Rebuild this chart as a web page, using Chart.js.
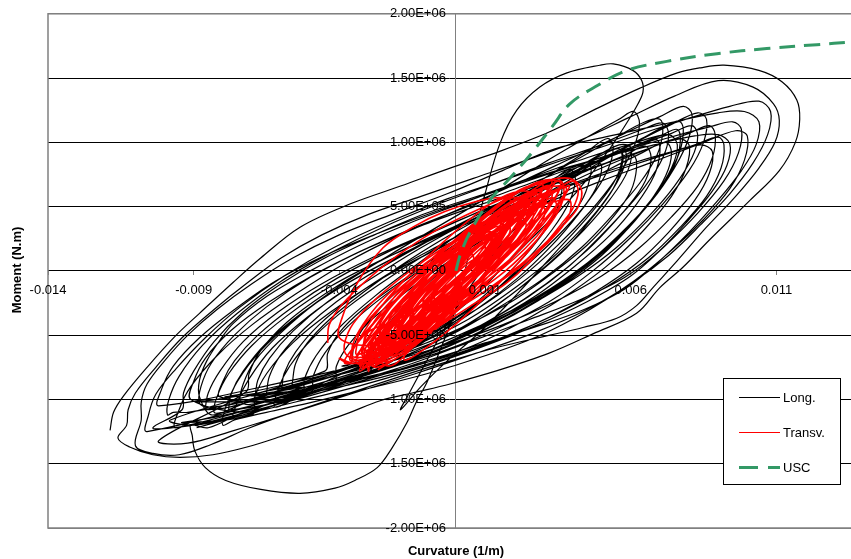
<!DOCTYPE html>
<html><head><meta charset="utf-8">
<script src="https://cdn.jsdelivr.net/npm/chart.js@4/dist/chart.umd.min.js"></script>
<style>html,body{margin:0;padding:0;background:#fff;overflow:hidden}#wrap{position:relative;width:851px;height:559px}</style>
</head><body><div id="wrap"><canvas id="c"></canvas></div>
<script>
const xTickValues = [-0.014, -0.009, -0.004, 0.001, 0.006, 0.011];
const yTickValues = [-2e6, -1.5e6, -1e6, -0.5e6, 0, 0.5e6, 1e6, 1.5e6, 2e6];
const seriesLabels = ['Long.', 'Transv.', 'USC'];
const axisTitles = ['Curvature (1/m)', 'Moment (N.m)'];

// Long. : outer loops (curvature 1/m, moment N.m)
const longOuter = [
[-0.01187,-1.24e6],[-0.01175,-1.10e6],[-0.0114,-0.97e6],[-0.0106,-0.75e6],[-0.0096,-0.50e6],[-0.0088,-0.33e6],[-0.00765,-0.09e6],[-0.0067,0.10e6],[-0.00535,0.34e6],[-0.00364,0.52e6],[-0.0019,0.66e6],[-0.0002,0.80e6],[0.0015,0.93e6],[0.0032,1.08e6],[0.0049,1.27e6],[0.0063,1.42e6],[0.0076,1.54e6],[0.0084,1.58e6],[0.0092,1.60e6],[0.0104,1.56e6],[0.0112,1.47e6],[0.0117,1.33e6],[0.0118,1.18e6],[0.01165,1.00e6],[0.0111,0.78e6],[0.0101,0.55e6],[0.0087,0.24e6],[0.0078,0.03e6],[0.0070,-0.13e6],[0.0062,-0.33e6],[0.0047,-0.49e6],[0.0032,-0.64e6],[0.0015,-0.77e6],[-0.0002,-0.88e6],[-0.0015,-0.95e6],[-0.0026,-1.01e6],[-0.00374,-1.11e6],[-0.0049,-1.20e6],[-0.00604,-1.29e6],[-0.00717,-1.37e6],[-0.00834,-1.43e6],[-0.00947,-1.45e6],[-0.0104,-1.43e6],[-0.0112,-1.37e6],[-0.0116,-1.30e6],
[-0.0113,-1.20e6],[-0.01125,-1.08e6],[-0.0110,-0.95e6],[-0.0103,-0.75e6],[-0.0094,-0.52e6],[-0.0083,-0.30e6],[-0.0072,-0.10e6],[-0.0060,0.10e6],[-0.0046,0.28e6],[-0.0030,0.44e6],[-0.0012,0.58e6],[0.0006,0.72e6],[0.0024,0.86e6],[0.0043,1.02e6],[0.0060,1.20e6],[0.0075,1.36e6],[0.0090,1.48e6],[0.0102,1.43e6],[0.0109,1.30e6],[0.0111,1.17e6],[0.01095,1.00e6],[0.0104,0.80e6],[0.0096,0.58e6],[0.0086,0.34e6],[0.0076,0.08e6],[0.0068,-0.12e6],[0.0062,-0.27e6],[0.0055,-0.37e6],[0.00436,-0.44e6],[0.00323,-0.50e6],[0.0015,-0.59e6],[-0.0002,-0.70e6],[-0.0019,-0.82e6],[-0.00364,-0.95e6],[-0.00535,-1.08e6],[-0.00707,-1.22e6],[-0.0084,-1.35e6],[-0.0095,-1.43e6],[-0.0104,-1.42e6],[-0.0110,-1.36e6],
[-0.0108,-1.16e6],[-0.0108,-1.02e6],[-0.0106,-0.88e6],[-0.0100,-0.70e6],[-0.0092,-0.50e6],[-0.0082,-0.30e6],[-0.0070,-0.10e6],[-0.0056,0.10e6],[-0.0040,0.28e6],[-0.0022,0.44e6],[-0.0003,0.60e6],[0.0016,0.78e6],[0.0034,0.95e6],[0.0055,1.06e6],[0.0075,1.16e6],[0.0090,1.23e6],[0.0099,1.24e6],[0.0104,1.16e6],[0.0103,0.98e6],[0.0098,0.78e6],[0.0090,0.55e6],[0.0080,0.30e6],[0.0069,0.06e6],[0.0058,-0.14e6],[0.0044,-0.30e6],[0.0028,-0.43e6],[0.0010,-0.56e6],[-0.0010,-0.70e6],[-0.0030,-0.84e6],[-0.0050,-0.97e6],[-0.0070,-1.09e6],[-0.0086,-1.18e6],[-0.0097,-1.22e6],[-0.0104,-1.22e6],
[-0.0094,-1.08e6],[-0.00935,-0.95e6],[-0.0090,-0.78e6],[-0.0083,-0.55e6],[-0.0073,-0.32e6],[-0.0060,-0.10e6],[-0.0045,0.10e6],[-0.0028,0.28e6],[-0.0010,0.45e6],[0.0010,0.60e6],[0.0030,0.75e6],[0.0050,0.88e6],[0.0068,0.98e6],[0.0082,1.05e6],[0.0090,1.06e6],[0.0094,0.99e6],[0.0093,0.82e6],[0.0088,0.62e6],[0.0080,0.40e6],[0.0070,0.16e6],[0.0058,-0.05e6],[0.0043,-0.22e6],[0.0025,-0.38e6],[0.0005,-0.55e6],[-0.0015,-0.72e6],[-0.0035,-0.86e6],[-0.0055,-0.98e6],[-0.0073,-1.10e6],[-0.0085,-1.22e6],[-0.0091,-1.20e6],
[-0.00905,-1.28e6],[-0.00896,-1.40e6],[-0.0086,-1.53e6],[-0.0079,-1.63e6],[-0.0067,-1.70e6],[-0.00535,-1.73e6],[-0.00415,-1.69e6],[-0.00347,-1.63e6],[-0.0027,-1.53e6],[-0.0022,-1.38e6],[-0.00168,-1.18e6],[-0.00134,-1.01e6],[-0.0010,-0.87e6],[-0.00055,-0.62e6],[-0.00003,-0.31e6],[0.00048,0.16e6],[0.0010,0.60e6],[0.00151,0.99e6],[0.00209,1.25e6],[0.00288,1.43e6],[0.00381,1.54e6],[0.00494,1.60e6],[0.0054,1.61e6],[0.00607,1.56e6],[0.00638,1.48e6],[0.00642,1.39e6],[0.00625,1.30e6],[0.00597,1.19e6],[0.00546,1.01e6],[0.0046,0.74e6],[0.00357,0.47e6],[0.00254,0.24e6],[0.0015,0],[0.00048,-0.23e6],[-0.0009,-0.46e6],[-0.0026,-0.66e6],[-0.0043,-0.81e6],[-0.0060,-0.93e6],[-0.0074,-1.04e6],[-0.0084,-1.12e6],[-0.0088,-0.98e6],[-0.0088,-0.85e6],[-0.00855,-0.70e6],[-0.0081,-0.54e6],[-0.00765,-0.41e6],[-0.0065,-0.20e6],[-0.0050,0],[-0.0033,0.20e6],[-0.0015,0.38e6],[0.0005,0.55e6],[0.0025,0.72e6],[0.0045,0.88e6],[0.0062,1.00e6],[0.0073,1.06e6],[0.0076,0.98e6],[0.0074,0.80e6],[0.0068,0.58e6],[0.0058,0.32e6],[0.0045,0.06e6],[0.0028,-0.20e6],[0.0009,-0.42e6],[-0.0012,-0.62e6],[-0.0033,-0.78e6],[-0.0054,-0.92e6],[-0.0073,-1.02e6],[-0.0084,-1.06e6]
];
// Long. : middle loops
const longMid = [
[-0.0088,-1.03e6],[-0.00875,-0.90e6],[-0.0084,-0.72e6],[-0.0076,-0.50e6],[-0.0065,-0.28e6],[-0.0050,-0.05e6],[-0.0033,0.15e6],[-0.0015,0.33e6],[0.0004,0.50e6],[0.0023,0.66e6],[0.0042,0.82e6],[0.0060,0.96e6],[0.0074,1.07e6],[0.0081,1.13e6],[0.0083,1.05e6],[0.0081,0.88e6],[0.0075,0.66e6],[0.0066,0.42e6],[0.0055,0.18e6],[0.0042,-0.04e6],[0.0026,-0.26e6],[0.0008,-0.48e6],[-0.0012,-0.66e6],[-0.0032,-0.80e6],[-0.0052,-0.92e6],[-0.0069,-1.01e6],[-0.0080,-1.07e6],[-0.00855,-1.08e6],
[-0.0086,-1.08e6],[-0.0085,-0.95e6],[-0.0081,-0.78e6],[-0.0073,-0.55e6],[-0.0061,-0.32e6],[-0.0046,-0.10e6],[-0.0029,0.10e6],[-0.0011,0.28e6],[0.0008,0.46e6],[0.0026,0.63e6],[0.0044,0.80e6],[0.0060,0.96e6],[0.0071,1.06e6],[0.0076,1.10e6],[0.0077,1.00e6],[0.0075,0.82e6],[0.0069,0.60e6],[0.0060,0.36e6],[0.0049,0.12e6],[0.0036,-0.10e6],[0.0020,-0.32e6],[0.0002,-0.52e6],[-0.0018,-0.70e6],[-0.0038,-0.84e6],[-0.0057,-0.96e6],[-0.0072,-1.06e6],[-0.0080,-1.10e6],
[-0.0083,-1.10e6],[-0.0082,-0.98e6],[-0.0078,-0.80e6],[-0.0070,-0.58e6],[-0.0058,-0.35e6],[-0.0043,-0.12e6],[-0.0026,0.08e6],[-0.0008,0.26e6],[0.0010,0.44e6],[0.0028,0.62e6],[0.0045,0.78e6],[0.0058,0.90e6],[0.0065,0.97e6],[0.0067,0.88e6],[0.0065,0.70e6],[0.0059,0.50e6],[0.0050,0.28e6],[0.0039,0.04e6],[0.0025,-0.20e6],[0.0009,-0.42e6],[-0.0009,-0.62e6],[-0.0029,-0.78e6],[-0.0049,-0.92e6],[-0.0066,-1.02e6],[-0.0077,-1.09e6],
[-0.0078,-1.08e6],[-0.0077,-0.95e6],[-0.0073,-0.78e6],[-0.0065,-0.56e6],[-0.0053,-0.33e6],[-0.0039,-0.12e6],[-0.0023,0.08e6],[-0.0006,0.27e6],[0.0011,0.46e6],[0.0028,0.64e6],[0.0043,0.80e6],[0.0053,0.90e6],[0.0057,0.92e6],[0.0057,0.82e6],[0.0054,0.64e6],[0.0047,0.42e6],[0.0038,0.18e6],[0.0026,-0.06e6],[0.0012,-0.30e6],[-0.0004,-0.52e6],[-0.0022,-0.70e6],[-0.0041,-0.85e6],[-0.0059,-0.97e6],[-0.0071,-1.04e6],
[-0.0074,-1.01e6],[-0.0073,-0.88e6],[-0.0069,-0.70e6],[-0.0060,-0.48e6],[-0.0048,-0.25e6],[-0.0033,-0.04e6],[-0.0016,0.16e6],[0.0002,0.35e6],[0.0021,0.52e6],[0.0040,0.68e6],[0.0058,0.82e6],[0.0073,0.92e6],[0.0084,0.98e6],[0.0088,0.93e6],[0.0087,0.76e6],[0.0082,0.55e6],[0.0073,0.30e6],[0.0062,0.06e6],[0.0048,-0.16e6],[0.0032,-0.36e6],[0.0014,-0.54e6],[-0.0006,-0.70e6],[-0.0026,-0.83e6],[-0.0046,-0.93e6],[-0.0063,-1.00e6],[-0.0070,-1.02e6],
[-0.0069,-0.98e6],[-0.0068,-0.85e6],[-0.0064,-0.68e6],[-0.0056,-0.47e6],[-0.0044,-0.24e6],[-0.0029,-0.02e6],[-0.0012,0.20e6],[0.0006,0.42e6],[0.0024,0.64e6],[0.0041,0.86e6],[0.0055,1.04e6],[0.0065,1.16e6],[0.0070,1.18e6],[0.0071,1.08e6],[0.0069,0.90e6],[0.0063,0.68e6],[0.0054,0.44e6],[0.0043,0.18e6],[0.0030,-0.06e6],[0.0015,-0.28e6],[-0.0002,-0.50e6],[-0.0020,-0.66e6],[-0.0039,-0.80e6],[-0.0056,-0.91e6],[-0.0065,-0.96e6],
[-0.0065,-0.95e6],[-0.0064,-0.82e6],[-0.0060,-0.65e6],[-0.0052,-0.45e6],[-0.0041,-0.24e6],[-0.0027,-0.03e6],[-0.0012,0.18e6],[0.0004,0.38e6],[0.0019,0.56e6],[0.0032,0.70e6],[0.0041,0.80e6],[0.0046,0.82e6],[0.0046,0.72e6],[0.0043,0.54e6],[0.0036,0.34e6],[0.0026,0.10e6],[0.0014,-0.14e6],[0,-0.36e6],[-0.0016,-0.56e6],[-0.0033,-0.72e6],[-0.0050,-0.85e6],[-0.0061,-0.92e6],
[-0.0060,-0.93e6],[-0.0059,-0.80e6],[-0.0055,-0.63e6],[-0.0047,-0.42e6],[-0.0035,-0.20e6],[-0.0020,0.02e6],[-0.0003,0.23e6],[0.0015,0.43e6],[0.0033,0.62e6],[0.0050,0.80e6],[0.0065,0.94e6],[0.0076,1.03e6],[0.0080,0.98e6],[0.0079,0.80e6],[0.0074,0.58e6],[0.0065,0.33e6],[0.0054,0.08e6],[0.0040,-0.16e6],[0.0024,-0.38e6],[0.0006,-0.58e6],[-0.0014,-0.74e6],[-0.0034,-0.85e6],[-0.0050,-0.90e6],[-0.0056,-0.90e6]
];
// Long. : inner loops
const longInner = [
[-0.0056,-0.85e6],[-0.0055,-0.72e6],[-0.0051,-0.56e6],[-0.0043,-0.37e6],[-0.0032,-0.17e6],[-0.0019,0.04e6],[-0.0005,0.24e6],[0.0009,0.42e6],[0.0022,0.57e6],[0.0031,0.66e6],[0.0036,0.68e6],[0.0036,0.58e6],[0.0033,0.40e6],[0.0026,0.18e6],[0.0016,-0.06e6],[0.0004,-0.30e6],[-0.0010,-0.52e6],[-0.0026,-0.68e6],[-0.0042,-0.78e6],[-0.0052,-0.83e6],
[-0.0102,-1.05e6],[-0.0101,-0.92e6],[-0.0097,-0.74e6],[-0.0088,-0.52e6],[-0.0076,-0.30e6],[-0.0062,-0.08e6],[-0.0045,0.12e6],[-0.0026,0.30e6],[-0.0006,0.47e6],[0.0014,0.62e6],[0.0034,0.77e6],[0.0054,0.91e6],[0.0072,1.03e6],[0.0087,1.12e6],[0.0095,1.16e6],[0.0098,1.10e6],[0.0097,0.92e6],[0.0092,0.70e6],[0.0083,0.45e6],[0.0072,0.20e6],[0.0060,-0.04e6],[0.0045,-0.24e6],[0.0028,-0.42e6],[0.0008,-0.60e6],[-0.0013,-0.76e6],[-0.0034,-0.90e6],[-0.0055,-1.02e6],[-0.0075,-1.13e6],[-0.0090,-1.20e6],[-0.0098,-1.16e6],
[-0.0045,-0.78e6],[-0.0044,-0.64e6],[-0.0040,-0.48e6],[-0.0032,-0.30e6],[-0.0020,-0.10e6],[-0.0006,0.12e6],[0.0009,0.34e6],[0.0024,0.55e6],[0.0038,0.73e6],[0.0047,0.85e6],[0.0050,0.82e6],[0.0048,0.64e6],[0.0042,0.44e6],[0.0033,0.20e6],[0.0021,-0.06e6],[0.0007,-0.30e6],[-0.0009,-0.52e6],[-0.0026,-0.66e6],[-0.0039,-0.74e6],
[-0.0036,-0.72e6],[-0.0035,-0.58e6],[-0.0031,-0.42e6],[-0.0023,-0.22e6],[-0.0012,0],[0.0002,0.24e6],[0.0017,0.46e6],[0.0032,0.68e6],[0.0046,0.86e6],[0.0056,0.98e6],[0.0060,0.96e6],[0.0059,0.78e6],[0.0053,0.56e6],[0.0044,0.32e6],[0.0032,0.06e6],[0.0018,-0.20e6],[0.0002,-0.44e6],[-0.0015,-0.60e6],[-0.0029,-0.68e6],
[-0.0026,-0.50e6],[-0.0018,-0.28e6],[-0.0006,0],[0.0008,0.28e6],[0.0023,0.54e6],[0.0038,0.76e6],[0.0050,0.90e6],[0.0056,0.95e6],[0.0057,0.86e6],[0.0054,0.68e6],[0.0046,0.44e6],[0.0034,0.14e6],[0.0021,-0.18e6],[0.0009,-0.46e6],[-0.0003,-0.70e6],[-0.0012,-0.90e6],[-0.0019,-1.08e6],[-0.0016,-0.95e6],[-0.0011,-0.74e6],[-0.0004,-0.45e6],[0.0005,-0.12e6],[0.0016,0.22e6],[0.0029,0.52e6],[0.0042,0.76e6],[0.0053,0.90e6],[0.0058,0.93e6],[0.0058,0.83e6],[0.0054,0.64e6],[0.0046,0.40e6],[0.0035,0.14e6],[0.0021,-0.12e6],[0.0004,-0.38e6],[-0.0016,-0.60e6],[-0.0037,-0.78e6],[-0.0058,-0.92e6],[-0.0078,-1.04e6],[-0.0092,-1.10e6],[-0.0097,-1.10e6],
[-0.0099,-1.12e6],[-0.00985,-1.00e6],[-0.0095,-0.82e6],[-0.0087,-0.58e6],[-0.0075,-0.33e6],[-0.0060,-0.08e6],[-0.0043,0.14e6],[-0.0025,0.34e6],[-0.0006,0.52e6],[0.0013,0.68e6],[0.0032,0.84e6],[0.0050,0.98e6],[0.0064,1.10e6],[0.0071,1.15e6],[0.0073,1.06e6],[0.0071,0.88e6],[0.0065,0.66e6],[0.0056,0.42e6],[0.0045,0.16e6],[0.0031,-0.10e6],[0.0015,-0.34e6],[-0.0003,-0.56e6],[-0.0023,-0.74e6],[-0.0044,-0.90e6],[-0.0065,-1.04e6],[-0.0083,-1.14e6],[-0.0094,-1.18e6],
[-0.0070,-1.12e6],[-0.0069,-0.98e6],[-0.0065,-0.80e6],[-0.0056,-0.56e6],[-0.0043,-0.32e6],[-0.0027,-0.08e6],[-0.0009,0.14e6],[0.0010,0.34e6],[0.0030,0.52e6],[0.0050,0.70e6],[0.0069,0.86e6],[0.0085,1.00e6],[0.0096,1.09e6],[0.0100,1.05e6],[0.0099,0.86e6],[0.0094,0.64e6],[0.0085,0.40e6],[0.0074,0.16e6],[0.0061,-0.08e6],[0.0046,-0.30e6],[0.0029,-0.50e6],[0.0010,-0.66e6],[-0.0010,-0.80e6],[-0.0031,-0.92e6],[-0.0051,-1.03e6],[-0.0065,-1.10e6],[-0.0076,-1.16e6],
[-0.0080,-1.20e6],[-0.0079,-1.06e6],[-0.0075,-0.86e6],[-0.0067,-0.62e6],[-0.0055,-0.37e6],[-0.0040,-0.12e6],[-0.0023,0.12e6],[-0.0005,0.36e6],[0.0013,0.60e6],[0.0030,0.84e6],[0.0045,1.04e6],[0.0056,1.18e6],[0.0061,1.24e6],[0.0063,1.15e6],[0.0061,0.96e6],[0.0055,0.72e6],[0.0046,0.46e6],[0.0035,0.20e6],[0.0022,-0.06e6],[0.0007,-0.30e6],[-0.0010,-0.50e6],[-0.0029,-0.68e6],[-0.0049,-0.84e6],[-0.0067,-0.98e6],[-0.0077,-1.08e6],
[-0.0050,-0.95e6],[-0.0049,-0.82e6],[-0.0045,-0.64e6],[-0.0037,-0.43e6],[-0.0025,-0.20e6],[-0.0010,0.04e6],[0.0007,0.28e6],[0.0025,0.52e6],[0.0043,0.76e6],[0.0060,0.98e6],[0.0074,1.14e6],[0.0083,1.23e6],[0.0086,1.18e6],[0.0085,1.00e6],[0.0080,0.78e6],[0.0071,0.52e6],[0.0060,0.26e6],[0.0047,0],[0.0032,-0.24e6],[0.0015,-0.44e6],[-0.0004,-0.62e6],[-0.0024,-0.76e6],[-0.0042,-0.86e6]
];
// Long. : additional loops
const longExtra = [
[-0.0076,-1.15e6],[-0.0075,-1.02e6],[-0.0071,-0.84e6],[-0.0063,-0.60e6],[-0.0051,-0.36e6],[-0.0036,-0.12e6],[-0.0019,0.12e6],[-0.0001,0.34e6],[0.0017,0.54e6],[0.0035,0.72e6],[0.0052,0.88e6],[0.0064,0.98e6],[0.0069,1.02e6],[0.0070,0.92e6],[0.0068,0.74e6],[0.0062,0.52e6],[0.0053,0.28e6],[0.0041,0.04e6],[0.0027,-0.20e6],[0.0010,-0.42e6],[-0.0009,-0.62e6],[-0.0029,-0.78e6],[-0.0049,-0.92e6],[-0.0065,-1.04e6],[-0.0073,-1.10e6],
[-0.0091,-1.00e6],[-0.0090,-0.86e6],[-0.0086,-0.68e6],[-0.0077,-0.46e6],[-0.0064,-0.24e6],[-0.0048,-0.02e6],[-0.0030,0.18e6],[-0.0011,0.36e6],[0.0009,0.52e6],[0.0029,0.67e6],[0.0049,0.82e6],[0.0067,0.96e6],[0.0080,1.07e6],[0.0087,1.13e6],[0.0089,1.06e6],[0.0088,0.88e6],[0.0083,0.66e6],[0.0074,0.42e6],[0.0063,0.18e6],[0.0050,-0.04e6],[0.0034,-0.24e6],[0.0016,-0.42e6],[-0.0004,-0.58e6],[-0.0025,-0.72e6],[-0.0046,-0.84e6],[-0.0066,-0.94e6],[-0.0082,-1.00e6],[-0.0089,-1.02e6],
[-0.0053,-0.98e6],[-0.0052,-0.84e6],[-0.0048,-0.66e6],[-0.0040,-0.44e6],[-0.0028,-0.20e6],[-0.0014,0.04e6],[0.0002,0.30e6],[0.0018,0.54e6],[0.0033,0.76e6],[0.0045,0.93e6],[0.0052,1.03e6],[0.0054,0.96e6],[0.0052,0.78e6],[0.0046,0.56e6],[0.0037,0.32e6],[0.0025,0.06e6],[0.0011,-0.20e6],[-0.0005,-0.44e6],[-0.0022,-0.64e6],[-0.0039,-0.80e6],[-0.0050,-0.92e6],
[-0.0062,-1.06e6],[-0.0061,-0.92e6],[-0.0057,-0.74e6],[-0.0049,-0.52e6],[-0.0037,-0.28e6],[-0.0022,-0.04e6],[-0.0005,0.20e6],[0.0013,0.42e6],[0.0031,0.64e6],[0.0048,0.85e6],[0.0063,1.02e6],[0.0073,1.14e6],[0.0077,1.16e6],[0.0078,1.06e6],[0.0076,0.88e6],[0.0070,0.64e6],[0.0061,0.38e6],[0.0050,0.12e6],[0.0036,-0.12e6],[0.0020,-0.34e6],[0.0002,-0.54e6],[-0.0018,-0.72e6],[-0.0038,-0.86e6],[-0.0055,-0.98e6],[-0.0060,-1.02e6],
[-0.0081,-0.98e6],[-0.0080,-0.86e6],[-0.0076,-0.70e6],[-0.0068,-0.50e6],[-0.0056,-0.28e6],[-0.0041,-0.06e6],[-0.0024,0.14e6],[-0.0006,0.32e6],[0.0012,0.50e6],[0.0030,0.66e6],[0.0046,0.79e6],[0.0057,0.88e6],[0.0061,0.90e6],[0.0062,0.80e6],[0.0060,0.62e6],[0.0054,0.42e6],[0.0045,0.20e6],[0.0033,-0.02e6],[0.0019,-0.24e6],[0.0002,-0.44e6],[-0.0017,-0.62e6],[-0.0037,-0.76e6],[-0.0056,-0.87e6],[-0.0072,-0.95e6],[-0.0079,-0.98e6],
[-0.0042,-0.88e6],[-0.0041,-0.74e6],[-0.0037,-0.58e6],[-0.0029,-0.38e6],[-0.0017,-0.16e6],[-0.0002,0.08e6],[0.0015,0.32e6],[0.0033,0.56e6],[0.0050,0.76e6],[0.0064,0.92e6],[0.0072,1.00e6],[0.0074,0.92e6],[0.0072,0.74e6],[0.0066,0.52e6],[0.0057,0.28e6],[0.0045,0.04e6],[0.0030,-0.20e6],[0.0013,-0.42e6],[-0.0006,-0.62e6],[-0.0025,-0.76e6],[-0.0039,-0.85e6],
[-0.0106,-1.25e6],[-0.01055,-1.12e6],[-0.0103,-0.96e6],[-0.0096,-0.76e6],[-0.0086,-0.52e6],[-0.0074,-0.28e6],[-0.0059,-0.04e6],[-0.0042,0.18e6],[-0.0023,0.38e6],[-0.0003,0.56e6],[0.0018,0.72e6],[0.0039,0.88e6],[0.0060,1.04e6],[0.0079,1.18e6],[0.0094,1.28e6],[0.0104,1.32e6],[0.0108,1.24e6],[0.0107,1.06e6],[0.0102,0.84e6],[0.0094,0.60e6],[0.0084,0.36e6],[0.0073,0.12e6],[0.0060,-0.10e6],[0.0045,-0.30e6],[0.0027,-0.48e6],[0.0007,-0.64e6],[-0.0014,-0.80e6],[-0.0035,-0.95e6],[-0.0056,-1.10e6],[-0.0076,-1.24e6],[-0.0092,-1.34e6],[-0.0102,-1.32e6],
[-0.0072,-0.94e6],[-0.0071,-0.80e6],[-0.0067,-0.62e6],[-0.0058,-0.40e6],[-0.0045,-0.18e6],[-0.0029,0.04e6],[-0.0011,0.24e6],[0.0008,0.42e6],[0.0028,0.58e6],[0.0048,0.73e6],[0.0067,0.87e6],[0.0082,0.98e6],[0.0090,1.04e6],[0.0092,0.98e6],[0.0091,0.80e6],[0.0086,0.58e6],[0.0077,0.34e6],[0.0066,0.10e6],[0.0052,-0.12e6],[0.0036,-0.32e6],[0.0018,-0.50e6],[-0.0002,-0.66e6],[-0.0022,-0.78e6],[-0.0042,-0.88e6],[-0.0060,-0.95e6],[-0.0070,-0.97e6],
[-0.0030,-0.80e6],[-0.0029,-0.66e6],[-0.0025,-0.48e6],[-0.0017,-0.26e6],[-0.0006,-0.02e6],[0.0007,0.24e6],[0.0020,0.48e6],[0.0032,0.68e6],[0.0039,0.79e6],[0.0041,0.72e6],[0.0039,0.54e6],[0.0033,0.32e6],[0.0024,0.08e6],[0.0012,-0.18e6],[-0.0002,-0.42e6],[-0.0016,-0.62e6],[-0.0027,-0.76e6],
[-0.0096,-1.22e6],[-0.0095,-1.08e6],[-0.0091,-0.90e6],[-0.0082,-0.66e6],[-0.0070,-0.42e6],[-0.0055,-0.18e6],[-0.0038,0.06e6],[-0.0019,0.28e6],[0.0001,0.48e6],[0.0021,0.68e6],[0.0040,0.88e6],[0.0057,1.06e6],[0.0070,1.20e6],[0.0078,1.28e6],[0.0081,1.22e6],[0.0080,1.04e6],[0.0075,0.80e6],[0.0067,0.54e6],[0.0056,0.28e6],[0.0043,0.02e6],[0.0027,-0.22e6],[0.0009,-0.44e6],[-0.0011,-0.64e6],[-0.0032,-0.82e6],[-0.0053,-0.98e6],[-0.0073,-1.12e6],[-0.0089,-1.22e6]
];
// Transv. : outer loops
const transOuter = [
[-0.0044,-0.56e6],[-0.00435,-0.42e6],[-0.0039,-0.26e6],[-0.0030,-0.06e6],[-0.0020,0.12e6],[-0.0008,0.30e6],[0.0006,0.46e6],[0.0020,0.60e6],[0.0031,0.70e6],[0.0039,0.72e6],[0.0043,0.64e6],[0.0042,0.50e6],[0.0037,0.36e6],[0.0028,0.16e6],[0.0016,-0.06e6],[0.0003,-0.26e6],[-0.0012,-0.46e6],[-0.0024,-0.62e6],[-0.0034,-0.72e6],[-0.0040,-0.68e6],
[-0.0036,-0.72e6],[-0.00355,-0.58e6],[-0.0032,-0.42e6],[-0.0025,-0.22e6],[-0.0015,-0.02e6],[-0.0003,0.18e6],[0.0010,0.38e6],[0.0022,0.54e6],[0.0031,0.65e6],[0.0036,0.70e6],[0.0037,0.58e6],[0.0034,0.42e6],[0.0027,0.22e6],[0.0017,0],[0.0005,-0.20e6],[-0.0009,-0.40e6],[-0.0022,-0.58e6],[-0.0031,-0.70e6],
[-0.0038,-0.64e6],[-0.0037,-0.48e6],[-0.0032,-0.32e6],[-0.0023,-0.13e6],[-0.0012,0.06e6],[0,0.24e6],[0.0013,0.38e6],[0.0025,0.48e6],[0.0034,0.54e6],[0.0039,0.55e6],[0.0039,0.44e6],[0.0035,0.30e6],[0.0027,0.12e6],[0.0016,-0.07e6],[0.0003,-0.26e6],[-0.0011,-0.43e6],[-0.0024,-0.57e6],[-0.0034,-0.65e6],
[-0.0034,-0.58e6],[-0.0033,-0.47e6],[-0.0028,-0.33e6],[-0.0020,-0.15e6],[-0.0010,0.04e6],[0.0001,0.22e6],[0.0012,0.38e6],[0.0023,0.52e6],[0.0030,0.60e6],[0.0033,0.62e6],[0.0032,0.52e6],[0.0027,0.38e6],[0.0019,0.20e6],[0.0009,0],[-0.0002,-0.20e6],[-0.0014,-0.38e6],[-0.0025,-0.52e6],[-0.0031,-0.58e6],
[-0.0040,-0.52e6],[-0.0039,-0.36e6],[-0.0034,-0.10e6],[-0.0025,0.18e6],[-0.0014,0.35e6],[-0.0004,0.46e6],[0.0007,0.54e6],[0.0016,0.57e6],[0.0020,0.52e6],[0.0018,0.38e6],[0.0012,0.20e6],[0.0003,0],[-0.0008,-0.20e6],[-0.0020,-0.38e6],[-0.0031,-0.50e6],
[-0.0030,-0.78e6],[-0.0029,-0.64e6],[-0.0024,-0.46e6],[-0.0016,-0.26e6],[-0.0006,-0.06e6],[0.0005,0.14e6],[0.0016,0.32e6],[0.0026,0.48e6],[0.0034,0.62e6],[0.0040,0.70e6],[0.0042,0.62e6],[0.0040,0.48e6],[0.0036,0.36e6],[0.0031,0.22e6],[0.0025,0.06e6],[0.0017,-0.10e6],[0.0008,-0.23e6],[-0.0005,-0.42e6],[-0.0014,-0.56e6],[-0.0024,-0.70e6],
[-0.0030,-0.70e6],[-0.0029,-0.56e6],[-0.0025,-0.40e6],[-0.0018,-0.21e6],[-0.0009,-0.02e6],[0.0001,0.17e6],[0.0011,0.35e6],[0.0019,0.48e6],[0.0024,0.57e6],[0.0025,0.48e6],[0.0022,0.33e6],[0.0016,0.15e6],[0.0007,-0.05e6],[-0.0004,-0.26e6],[-0.0015,-0.45e6],[-0.0024,-0.62e6],
[-0.0032,-0.66e6],[-0.0031,-0.52e6],[-0.0027,-0.36e6],[-0.0020,-0.18e6],[-0.0010,0.02e6],[0.0001,0.22e6],[0.0012,0.40e6],[0.0022,0.53e6],[0.0028,0.60e6],[0.0030,0.55e6],[0.0028,0.40e6],[0.0022,0.22e6],[0.0013,0.02e6],[0.0002,-0.18e6],[-0.0010,-0.38e6],[-0.0021,-0.54e6],[-0.0029,-0.64e6]
];
// Transv. : inner loops
const transInner = [
[-0.0028,-0.60e6],[-0.0027,-0.46e6],[-0.0023,-0.30e6],[-0.0016,-0.13e6],[-0.0007,0.05e6],[0.0003,0.22e6],[0.0013,0.37e6],[0.0021,0.47e6],[0.0026,0.52e6],[0.00265,0.42e6],[0.0023,0.28e6],[0.0016,0.10e6],[0.0007,-0.09e6],[-0.0004,-0.28e6],[-0.0015,-0.44e6],[-0.0024,-0.56e6],
[-0.0024,-0.50e6],[-0.0023,-0.38e6],[-0.0019,-0.24e6],[-0.0012,-0.08e6],[-0.0004,0.08e6],[0.0005,0.23e6],[0.0014,0.36e6],[0.0020,0.43e6],[0.00225,0.40e6],[0.0020,0.27e6],[0.0014,0.11e6],[0.0006,-0.06e6],[-0.0004,-0.23e6],[-0.0014,-0.38e6],[-0.0021,-0.48e6],
[-0.0020,-0.46e6],[-0.0019,-0.34e6],[-0.0015,-0.20e6],[-0.0009,-0.06e6],[-0.0001,0.09e6],[0.0007,0.22e6],[0.0014,0.32e6],[0.0018,0.37e6],[0.00185,0.30e6],[0.0015,0.17e6],[0.0009,0.03e6],[0.0001,-0.12e6],[-0.0008,-0.27e6],[-0.0016,-0.40e6],
[-0.0016,-0.40e6],[-0.0015,-0.29e6],[-0.0011,-0.17e6],[-0.0005,-0.04e6],[0.0002,0.10e6],[0.0009,0.21e6],[0.00135,0.29e6],[0.0014,0.22e6],[0.0011,0.10e6],[0.0005,-0.03e6],[-0.0002,-0.16e6],[-0.0009,-0.28e6],[-0.0014,-0.37e6],
[-0.0026,-0.54e6],[-0.0025,-0.42e6],[-0.0020,-0.27e6],[-0.0013,-0.10e6],[-0.0004,0.07e6],[0.0006,0.22e6],[0.0016,0.35e6],[0.0025,0.45e6],[0.0030,0.50e6],[0.0030,0.40e6],[0.0026,0.27e6],[0.0019,0.10e6],[0.0009,-0.08e6],[-0.0002,-0.26e6],[-0.0013,-0.41e6],[-0.0022,-0.52e6],
[-0.0012,-0.32e6],[-0.0011,-0.22e6],[-0.0007,-0.11e6],[-0.0001,0.02e6],[0.0005,0.14e6],[0.00095,0.22e6],[0.0010,0.16e6],[0.0007,0.05e6],[0.0001,-0.07e6],[-0.0005,-0.18e6],[-0.0010,-0.28e6],
[-0.0022,-0.56e6],[-0.0021,-0.44e6],[-0.0017,-0.29e6],[-0.0010,-0.12e6],[-0.0001,0.06e6],[0.0009,0.23e6],[0.0019,0.38e6],[0.0028,0.50e6],[0.0033,0.57e6],[0.00345,0.50e6],[0.0031,0.36e6],[0.0024,0.18e6],[0.0014,-0.02e6],[0.0003,-0.21e6],[-0.0008,-0.38e6],[-0.0017,-0.51e6],
[-0.0008,-0.26e6],[-0.0007,-0.17e6],[-0.0004,-0.08e6],[0.0001,0.03e6],[0.00055,0.13e6],[0.0006,0.08e6],[0.0003,-0.02e6],[-0.0002,-0.12e6],[-0.0007,-0.22e6],
[-0.0019,-0.50e6],[-0.0018,-0.38e6],[-0.0014,-0.24e6],[-0.0007,-0.08e6],[0.0001,0.08e6],[0.0010,0.22e6],[0.0018,0.34e6],[0.0023,0.41e6],[0.0024,0.34e6],[0.0020,0.20e6],[0.0013,0.03e6],[0.0004,-0.14e6],[-0.0006,-0.31e6],[-0.0015,-0.45e6],
[-0.0026,-0.48e6],[-0.0025,-0.35e6],[-0.0021,-0.20e6],[-0.0014,-0.03e6],[-0.0006,0.14e6],[0.0003,0.29e6],[0.0011,0.40e6],[0.0016,0.44e6],[0.0016,0.35e6],[0.0012,0.21e6],[0.0005,0.04e6],[-0.0004,-0.14e6],[-0.0014,-0.31e6],[-0.0022,-0.44e6]
];
// Transv. : core loops
const transCore = [
[-0.0033,-0.74e6],[-0.00265,-0.51e6],[-0.00168,-0.26e6],[-0.00005,0.11e6],[0.00158,0.44e6],[0.00255,0.60e6],[0.0032,0.66e6],[0.00255,0.44e6],[0.00158,0.18e6],[-0.00005,-0.19e6],[-0.00168,-0.53e6],[-0.00265,-0.69e6],
[-0.0029,-0.68e6],[-0.00232,-0.48e6],[-0.00145,-0.25e6],[0,0.09e6],[0.00145,0.40e6],[0.00232,0.56e6],[0.0029,0.62e6],[0.00232,0.42e6],[0.00145,0.19e6],[0,-0.15e6],[-0.00145,-0.46e6],[-0.00232,-0.62e6],
[-0.0036,-0.66e6],[-0.00297,-0.45e6],[-0.00203,-0.22e6],[-0.00045,0.11e6],[0.00113,0.40e6],[0.00207,0.55e6],[0.0027,0.60e6],[0.00207,0.40e6],[0.00113,0.17e6],[-0.00045,-0.17e6],[-0.00203,-0.47e6],[-0.00297,-0.62e6],
[-0.0025,-0.62e6],[-0.0019,-0.42e6],[-0.0010,-0.19e6],[0.0005,0.13e6],[0.0020,0.42e6],[0.0029,0.57e6],[0.0035,0.62e6],[0.0029,0.42e6],[0.0020,0.20e6],[0.0005,-0.13e6],[-0.0010,-0.43e6],[-0.0019,-0.57e6],
[-0.0030,-0.60e6],[-0.00246,-0.43e6],[-0.00165,-0.23e6],[-0.0003,0.06e6],[0.00105,0.33e6],[0.00186,0.46e6],[0.0024,0.52e6],[0.00186,0.35e6],[0.00105,0.16e6],[-0.0003,-0.14e6],[-0.00165,-0.41e6],[-0.00246,-0.55e6],
[-0.0022,-0.58e6],[-0.00178,-0.40e6],[-0.00115,-0.21e6],[-0.0001,0.06e6],[0.00095,0.30e6],[0.00158,0.42e6],[0.0020,0.46e6],[0.00158,0.29e6],[0.00095,0.10e6],[-0.0001,-0.18e6],[-0.00115,-0.43e6],[-0.00178,-0.55e6],
[-0.0018,-0.48e6],[-0.00136,-0.32e6],[-0.0007,-0.14e6],[0.0004,0.12e6],[0.0015,0.35e6],[0.00216,0.46e6],[0.0026,0.50e6],[0.00216,0.34e6],[0.0015,0.16e6],[0.0004,-0.10e6],[-0.0007,-0.33e6],[-0.00136,-0.45e6],
[-0.0034,-0.68e6],[-0.00268,-0.45e6],[-0.0016,-0.20e6],[0.0002,0.15e6],[0.0020,0.46e6],[0.00308,0.60e6],[0.0038,0.64e6],[0.00308,0.41e6],[0.0020,0.17e6],[0.0002,-0.19e6],[-0.0016,-0.50e6],[-0.00268,-0.65e6],
[-0.0014,-0.40e6],[-0.00108,-0.27e6],[-0.0006,-0.13e6],[0.0002,0.07e6],[0.0010,0.25e6],[0.00148,0.33e6],[0.0018,0.36e6],[0.00148,0.23e6],[0.0010,0.09e6],[0.0002,-0.11e6],[-0.0006,-0.29e6],[-0.00108,-0.38e6],
[-0.0027,-0.70e6],[-0.00221,-0.49e6],[-0.00148,-0.27e6],[-0.00025,0.05e6],[0.00098,0.33e6],[0.00171,0.48e6],[0.0022,0.52e6],[0.00171,0.32e6],[0.00098,0.10e6],[-0.00025,-0.23e6],[-0.00148,-0.52e6],[-0.00221,-0.66e6],
[-0.0020,-0.44e6],[-0.0015,-0.27e6],[-0.00075,-0.08e6],[0.0005,0.19e6],[0.00175,0.43e6],[0.0025,0.54e6],[0.0030,0.58e6],[0.0025,0.41e6],[0.00175,0.22e6],[0.0005,-0.05e6],[-0.00075,-0.29e6],[-0.0015,-0.41e6],
[-0.0031,-0.62e6],[-0.00263,-0.45e6],[-0.00193,-0.26e6],[-0.00075,0.01e6],[0.00043,0.25e6],[0.00113,0.36e6],[0.0016,0.40e6],[0.00113,0.23e6],[0.00043,0.04e6],[-0.00075,-0.23e6],[-0.00193,-0.47e6],[-0.00263,-0.59e6],
[-0.0010,-0.30e6],[-0.00077,-0.20e6],[-0.00043,-0.09e6],[0.00015,0.06e6],[0.00073,0.20e6],[0.00107,0.26e6],[0.0013,0.28e6],[0.00107,0.18e6],[0.00073,0.08e6],[0.00015,-0.08e6],[-0.00043,-0.22e6],[-0.00077,-0.28e6],
[-0.0024,-0.64e6],[-0.00185,-0.45e6],[-0.00103,-0.24e6],[0.00035,0.07e6],[0.00173,0.35e6],[0.00255,0.49e6],[0.0031,0.54e6],[0.00255,0.36e6],[0.00173,0.14e6],[0.00035,-0.17e6],[-0.00103,-0.45e6],[-0.00185,-0.59e6],
[-0.0038,-0.72e6],[-0.00322,-0.51e6],[-0.00235,-0.29e6],[-0.0009,0.03e6],[0.00055,0.31e6],[0.00142,0.44e6],[0.0020,0.48e6],[0.00142,0.28e6],[0.00055,0.05e6],[-0.0009,-0.27e6],[-0.00235,-0.56e6],[-0.00322,-0.69e6],
[-0.0015,-0.52e6],[-0.00096,-0.32e6],[-0.00015,-0.11e6],[0.0012,0.20e6],[0.00255,0.48e6],[0.00336,0.61e6],[0.0039,0.66e6],[0.00336,0.47e6],[0.00255,0.25e6],[0.0012,-0.06e6],[-0.00015,-0.34e6],[-0.00096,-0.48e6],
[-0.0026,-0.56e6],[-0.00208,-0.39e6],[-0.0013,-0.20e6],[0,0.09e6],[0.0013,0.36e6],[0.00208,0.50e6],[0.0026,0.56e6],[0.00208,0.40e6],[0.0013,0.20e6],[0,-0.09e6],[-0.0013,-0.36e6],[-0.00208,-0.50e6],
[-0.0032,-0.76e6],[-0.00276,-0.58e6],[-0.0021,-0.38e6],[-0.0010,-0.10e6],[0.0001,0.15e6],[0.00076,0.27e6],[0.0012,0.30e6],[0.00076,0.12e6],[0.0001,-0.08e6],[-0.0010,-0.36e6],[-0.0021,-0.61e6],[-0.00276,-0.73e6],
[-0.0006,-0.14e6],[-0.0002,0.02e6],[0.0004,0.18e6],[0.0014,0.40e6],[0.0024,0.59e6],[0.0030,0.68e6],[0.0034,0.70e6],[0.0030,0.55e6],[0.0024,0.39e6],[0.0014,0.16e6],[0.0004,-0.04e6],[-0.0002,-0.13e6],
[-0.0020,-0.60e6],[-0.0017,-0.47e6],[-0.00125,-0.33e6],[-0.0005,-0.14e6],[0.00025,0.03e6],[0.0007,0.10e6],[0.0010,0.12e6],[0.0007,-0.01e6],[0.00025,-0.15e6],[-0.0005,-0.34e6],[-0.00125,-0.51e6],[-0.0017,-0.59e6]
];
// Transv. : wide core loops
const transWide = [
[-0.0034,-0.72e6],[-0.0027,-0.41e6],[-0.00165,-0.12e6],[0.0001,0.26e6],[0.00185,0.57e6],[0.0029,0.69e6],[0.0036,0.68e6],[0.0029,0.39e6],[0.00185,0.09e6],[0.0001,-0.30e6],[-0.00165,-0.62e6],[-0.0027,-0.75e6],
[-0.0030,-0.70e6],[-0.00238,-0.42e6],[-0.00145,-0.15e6],[0.0001,0.20e6],[0.00165,0.49e6],[0.00258,0.62e6],[0.0032,0.62e6],[0.00258,0.36e6],[0.00165,0.09e6],[0.0001,-0.28e6],[-0.00145,-0.59e6],[-0.00238,-0.71e6],
[-0.0026,-0.62e6],[-0.00206,-0.37e6],[-0.00125,-0.12e6],[0.0001,0.20e6],[0.00145,0.47e6],[0.00226,0.58e6],[0.0028,0.58e6],[0.00226,0.34e6],[0.00145,0.09e6],[0.0001,-0.24e6],[-0.00125,-0.52e6],[-0.00206,-0.63e6],
[-0.0032,-0.64e6],[-0.00258,-0.38e6],[-0.00165,-0.12e6],[-0.0001,0.23e6],[0.00145,0.52e6],[0.00238,0.65e6],[0.0030,0.66e6],[0.00238,0.41e6],[0.00145,0.15e6],[-0.0001,-0.21e6],[-0.00165,-0.51e6],[-0.00258,-0.64e6],
[-0.0022,-0.60e6],[-0.00174,-0.37e6],[-0.00105,-0.15e6],[0.0001,0.15e6],[0.00125,0.40e6],[0.00194,0.50e6],[0.0024,0.50e6],[0.00194,0.28e6],[0.00125,0.06e6],[0.0001,-0.25e6],[-0.00105,-0.51e6],[-0.00174,-0.61e6],
[-0.0018,-0.50e6],[-0.00142,-0.31e6],[-0.00085,-0.12e6],[0.0001,0.13e6],[0.00105,0.34e6],[0.00162,0.43e6],[0.0020,0.44e6],[0.00162,0.26e6],[0.00105,0.07e6],[0.0001,-0.19e6],[-0.00085,-0.41e6],[-0.00142,-0.50e6],
[-0.0036,-0.70e6],[-0.00298,-0.41e6],[-0.00205,-0.14e6],[-0.0005,0.21e6],[0.00105,0.50e6],[0.00198,0.61e6],[0.0026,0.60e6],[0.00198,0.33e6],[0.00105,0.05e6],[-0.0005,-0.31e6],[-0.00205,-0.61e6],[-0.00298,-0.73e6],
[-0.0024,-0.66e6],[-0.00178,-0.37e6],[-0.00085,-0.10e6],[0.0007,0.25e6],[0.00225,0.54e6],[0.00318,0.65e6],[0.0038,0.64e6],[0.00318,0.37e6],[0.00225,0.09e6],[0.0007,-0.27e6],[-0.00085,-0.57e6],[-0.00178,-0.69e6],
[-0.0012,-0.40e6],[-0.00092,-0.24e6],[-0.0005,-0.09e6],[0.0002,0.11e6],[0.0009,0.27e6],[0.00132,0.34e6],[0.0016,0.34e6],[0.00132,0.19e6],[0.0009,0.04e6],[0.0002,-0.17e6],[-0.0005,-0.34e6],[-0.00092,-0.41e6],
[-0.0028,-0.74e6],[-0.0023,-0.48e6],[-0.00155,-0.22e6],[-0.0003,0.13e6],[0.00095,0.42e6],[0.0017,0.55e6],[0.0022,0.56e6],[0.0017,0.31e6],[0.00095,0.05e6],[-0.0003,-0.31e6],[-0.00155,-0.61e6],[-0.0023,-0.74e6],
[-0.0029,-0.60e6],[-0.00228,-0.35e6],[-0.00135,-0.10e6],[0.0002,0.25e6],[0.00175,0.55e6],[0.00268,0.68e6],[0.0033,0.70e6],[0.00268,0.46e6],[0.00175,0.21e6],[0.0002,-0.15e6],[-0.00135,-0.46e6],[-0.00228,-0.59e6],
[-0.0033,-0.78e6],[-0.00268,-0.53e6],[-0.00175,-0.27e6],[-0.0002,0.08e6],[0.00135,0.38e6],[0.00228,0.52e6],[0.0029,0.54e6],[0.00228,0.30e6],[0.00135,0.04e6],[-0.0002,-0.32e6],[-0.00175,-0.63e6],[-0.00268,-0.77e6]
];
// USC monotonic curve
const uscCurve = [
[0,0],[0.00014,0.12e6],[0.00048,0.30e6],[0.00117,0.55e6],[0.00185,0.72e6],[0.00254,0.90e6],[0.00333,1.13e6],[0.00391,1.30e6],[0.00484,1.44e6],[0.00587,1.56e6],[0.00724,1.63e6],[0.00896,1.69e6],[0.01067,1.73e6],[0.01239,1.76e6],[0.01356,1.78e6]
];

const toXY = arr => arr.map(p => ({x: p[0], y: p[1]}));
const longData = toXY(longOuter.concat(longMid, longInner, longExtra));
const transData = toXY(transOuter.concat(transInner, transCore, transWide));
const uscData = toXY(uscCurve);

function fmtExp(v) {
  if (v === 0) return '0.00E+00';
  const e = Math.floor(Math.log10(Math.abs(v)) + 1e-9);
  const m = v / Math.pow(10, e);
  return m.toFixed(2) + 'E' + (e < 0 ? '-' : '+') + String(Math.abs(e)).padStart(2, '0');
}

Chart.defaults.font.family = 'Arial, "Liberation Sans", sans-serif';
Chart.defaults.font.size = 13;
Chart.defaults.color = '#000';

const frame = {
  id: 'frame',
  beforeDraw(chart) {
    const items = chart.scales.y.getLabelItems();
    if (!items._adj) {
      const x0 = chart.scales.x.getPixelForValue(0);
      items.forEach(it => { it.options.translation[0] = x0 - 10; });
      items._adj = true;
    }
  },
  beforeDatasetsDraw(chart) {
    const {ctx, chartArea: a} = chart;
    ctx.save();
    ctx.strokeStyle = '#808080';
    ctx.lineWidth = 1.5;
    ctx.strokeRect(a.left, a.top, a.right - a.left + 5, a.bottom - a.top);
    ctx.restore();
  },
  afterDraw(chart) {
    const ctx = chart.ctx;
    ctx.save();
    ctx.fillStyle = '#000';
    ctx.font = 'bold 13px Arial, "Liberation Sans", sans-serif';
    ctx.textAlign = 'center';
    ctx.textBaseline = 'middle';
    ctx.fillText(axisTitles[0], 456, 551);
    ctx.translate(17, 270);
    ctx.rotate(-Math.PI / 2);
    ctx.fillText(axisTitles[1], 0, 0);
    ctx.restore();
    ctx.save();
    ctx.fillStyle = '#fff';
    ctx.fillRect(723.5, 378.5, 117, 106);
    ctx.strokeStyle = '#000';
    ctx.lineWidth = 1;
    ctx.strokeRect(723.5, 378.5, 117, 106);
    const rows = [397, 432, 467];
    chart.data.datasets.forEach((ds, i) => {
      ctx.beginPath();
      ctx.setLineDash(ds.borderDash ? [19, 10] : []);
      ctx.lineWidth = i === 2 ? 3 : 1;
      ctx.strokeStyle = ds.borderColor;
      ctx.moveTo(739, rows[i] + 0.5);
      ctx.lineTo(780, rows[i] + 0.5);
      ctx.stroke();
      ctx.setLineDash([]);
      ctx.fillStyle = '#000';
      ctx.font = '13px Arial, "Liberation Sans", sans-serif';
      ctx.textAlign = 'left';
      ctx.textBaseline = 'middle';
      ctx.fillText(ds.label, 783, rows[i] + 1);
    });
    ctx.restore();
  }
};

new Chart(document.getElementById('c'), {
  type: 'scatter',
  data: {
    datasets: [
      {label: seriesLabels[0], data: longData, borderColor: '#000000', borderWidth: 1.2, order: 2},
      {label: seriesLabels[1], data: transData, borderColor: '#ff0000', borderWidth: 1.6, order: 1},
      {label: seriesLabels[2], data: uscData, borderColor: '#339966', borderWidth: 3, borderDash: [16, 9], order: 0}
    ]
  },
  options: {
    responsive: true,
    maintainAspectRatio: false,
    animation: false,
    events: [],
    layout: {padding: {left: 48, top: 13, right: 0, bottom: 31}},
    datasets: {scatter: {showLine: true, pointRadius: 0, pointHoverRadius: 0, tension: 0.35, fill: false}},
    plugins: {legend: {display: false}, tooltip: {enabled: false}},
    scales: {
      x: {
        type: 'linear', min: -0.014, max: 0.01356, position: {y: 0},
        afterBuildTicks: s => { s.ticks = xTickValues.map(v => ({value: v})); },
        ticks: {callback: v => v.toFixed(3), padding: 8, z: 1, autoSkip: false, maxRotation: 0},
        grid: {drawOnChartArea: false, drawTicks: true, tickLength: 4, color: '#808080'},
        border: {display: true, color: '#000', width: 1}
      },
      y: {
        type: 'linear', min: -2e6, max: 2e6, position: {x: 0},
        afterBuildTicks: s => { s.ticks = yTickValues.map(v => ({value: v})); },
        ticks: {callback: v => fmtExp(v), padding: 6, z: 1, autoSkip: false},
        grid: {drawTicks: true, tickLength: 4, color: c => (c.tick && Math.abs(c.tick.value) === 2e6) ? '#808080' : '#000'},
        border: {display: true, color: '#808080', width: 1}
      }
    }
  },
  plugins: [frame]
});
</script>
</body></html>
